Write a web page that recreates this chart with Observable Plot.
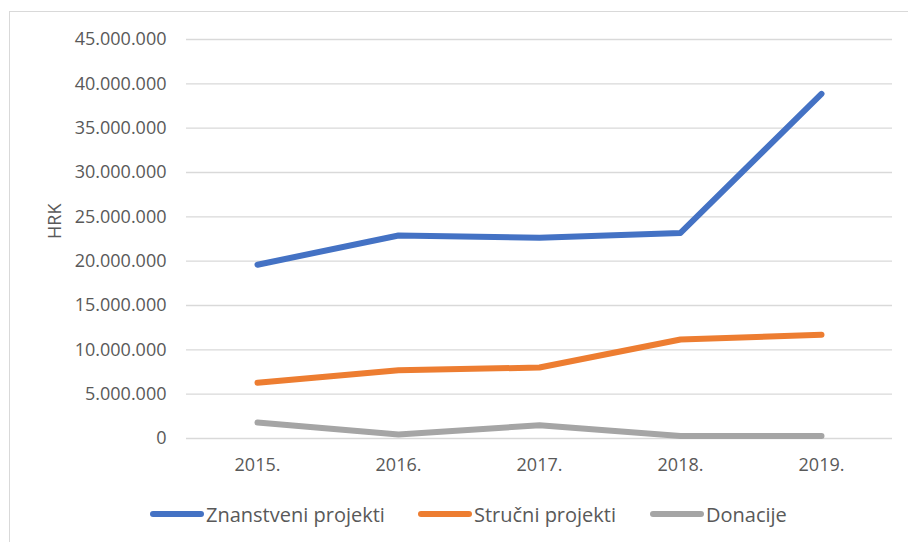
<!DOCTYPE html>
<html>
<head>
<meta charset="utf-8">
<script src="https://cdn.jsdelivr.net/npm/d3@7"></script>
<script src="https://cdn.jsdelivr.net/npm/@observablehq/plot@0.6"></script>
<style>
  html, body { margin: 0; padding: 0; background: #fff; }
  body { width: 908px; height: 542px; position: relative; overflow: hidden; font-family: "Open Sans", sans-serif; }
  #frame { position: absolute; left: 9px; top: 11px; width: 1000px; height: 600px; border-top: 1px solid #d9d9d9; border-left: 1px solid #d9d9d9; }
  #chart { position: absolute; left: 0; top: 0; }
  #legend { position: absolute; left: 0; top: 499px; width: 908px; height: 30px; }
  .item { position: absolute; top: 0; display: flex; align-items: center; font-size: 20px; color: #595959; height: 30px; }
  .sw { width: 54px; height: 6px; border-radius: 3px; margin-right: 2px; }
</style>
</head>
<body>
<div id="frame"></div>
<div id="chart"></div>
<div id="legend"></div>
<script>
const years = ["2015.", "2016.", "2017.", "2018.", "2019."];
const seriesNames = ["Znanstveni projekti", "Stručni projekti", "Donacije"];
const znanstveni = [19600000, 22900000, 22650000, 23180000, 38870000];
const strucni = [6300000, 7700000, 8000000, 11170000, 11700000];
const donacije = [1800000, 450000, 1500000, 280000, 280000];
const yTicks = [0, 5000000, 10000000, 15000000, 20000000, 25000000, 30000000, 35000000, 40000000, 45000000];
const colors = ["#4472C4", "#ED7D31", "#A5A5A5"];

const seriesValues = [znanstveni, strucni, donacije];
const data = [];
seriesNames.forEach((s, i) => years.forEach((y, j) => data.push({series: s, year: y, value: seriesValues[i][j]})));

const fmt = v => d3.format(",")(v).replace(/,/g, ".");

const plot = Plot.plot({
  width: 908,
  height: 490,
  marginLeft: 186,
  marginRight: 16,
  marginTop: 39,
  marginBottom: 52,
  style: {fontFamily: "Open Sans, sans-serif", fontSize: "18px", color: "#595959", background: "transparent"},
  x: {type: "point", domain: years, padding: 0.5, label: null},
  y: {domain: [0, 45000000], ticks: yTicks, label: null},
  color: {domain: seriesNames, range: colors},
  marks: [
    Plot.gridY(yTicks, {stroke: "#d9d9d9", strokeOpacity: 1, strokeWidth: 1.3}),
    Plot.axisY(yTicks, {tickSize: 0, tickPadding: 20, tickFormat: fmt, fill: "#595959", fontSize: 18, label: null}),
    Plot.axisX({tickSize: 0, tickPadding: 20, fill: "#595959", fontSize: 18, label: null}),
    Plot.text(["HRK"], {frameAnchor: "left", dx: -131, rotate: -90, fill: "#595959", fontSize: 18}),
    Plot.line(data, {x: "year", y: "value", z: "series", stroke: "series", strokeWidth: 6, strokeLinecap: "round", strokeLinejoin: "round"})
  ]
});
document.getElementById("chart").appendChild(plot);

const legend = document.getElementById("legend");
const lefts = [150, 418, 650];
seriesNames.forEach((s, i) => {
  const it = document.createElement("div");
  it.className = "item";
  it.style.left = lefts[i] + "px";
  const sw = document.createElement("div");
  sw.className = "sw";
  sw.style.background = colors[i];
  const t = document.createElement("span");
  t.textContent = s;
  it.appendChild(sw); it.appendChild(t);
  legend.appendChild(it);
});
</script>
</body>
</html>
